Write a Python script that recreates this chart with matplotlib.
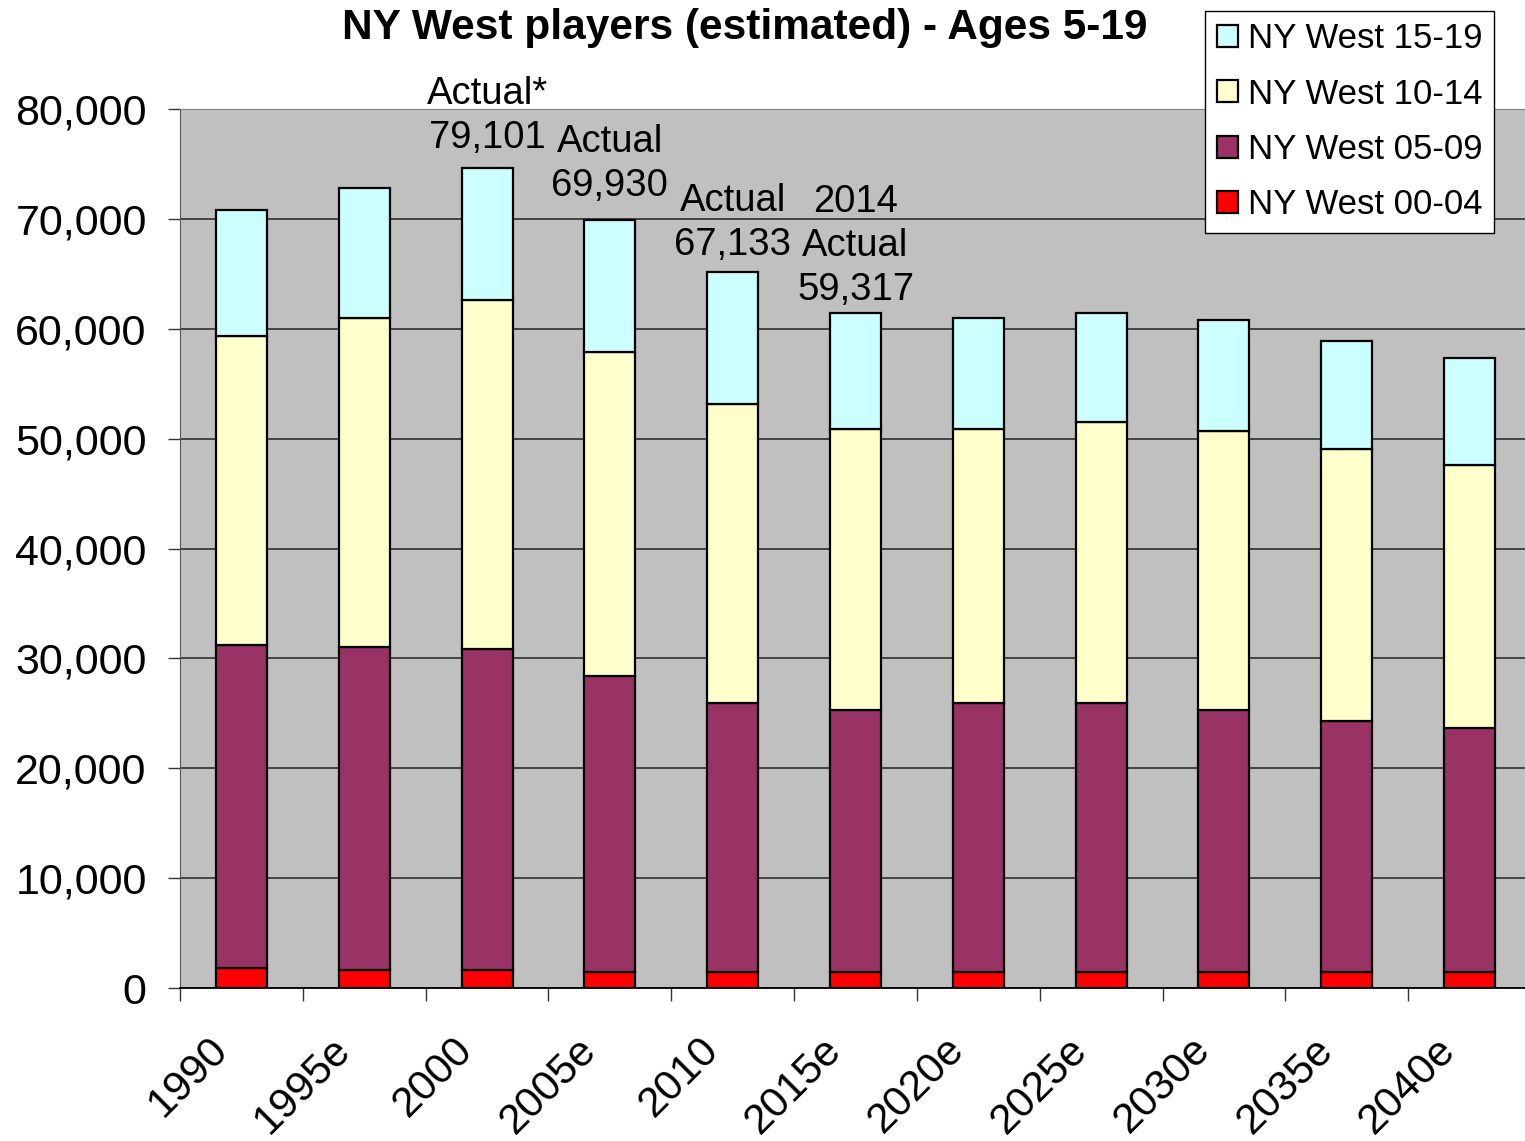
import numpy as np
import matplotlib
matplotlib.use('Agg')
import matplotlib.pyplot as plt
import matplotlib.transforms as mtransforms
from matplotlib.ticker import FuncFormatter

plt.rcParams['font.family'] = ['Liberation Sans', 'DejaVu Sans']

# data
years = ['1990', '1995e', '2000', '2005e', '2010', '2015e', '2020e', '2025e', '2030e', '2035e', '2040e']
age_00_04 = [1800, 1600, 1600, 1450, 1450, 1450, 1450, 1450, 1450, 1450, 1450]
age_05_09 = [29400, 29450, 29250, 26950, 24500, 23850, 24500, 24500, 23850, 22850, 22200]
age_10_14 = [28100, 29900, 31750, 29500, 27200, 25550, 24950, 25550, 25400, 24750, 23950]
age_15_19 = [11550, 11850, 12000, 12000, 12000, 10550, 10100, 9900, 10100, 9850, 9750]

notes = {2: 'Actual*\n79,101', 3: 'Actual\n69,930', 4: 'Actual\n67,133', 5: '2014\nActual\n59,317'}
note_gap = {2: 12, 3: 16, 4: 9, 5: 5}

colors = ['#FF0000', '#993366', '#FFFFCC', '#CCFFFF']
labels = ['NY West 00-04', 'NY West 05-09', 'NY West 10-14', 'NY West 15-19']
series = [age_00_04, age_05_09, age_10_14, age_15_19]

fig = plt.figure(figsize=(15.25, 11.41), dpi=100)
ax = fig.add_axes([180/1525, 1-988/1141, 1351/1525, (988-109)/1141])
ax.set_facecolor('#C0C0C0')

x = np.arange(len(years))
bottom = np.zeros(len(years))
for vals, c, lab in zip(series, colors, labels):
    ax.bar(x, vals, width=0.415, bottom=bottom, color=c, edgecolor='black',
           linewidth=1.6, label=lab, zorder=3)
    bottom += np.array(vals)

for i, txt in notes.items():
    ax.annotate(txt, xy=(x[i], bottom[i]), xytext=(0, note_gap[i]), textcoords='offset pixels',
                ha='center', va='bottom', fontsize=27.5, linespacing=1.3, zorder=5,
                annotation_clip=False)

ax.set_ylim(0, 80000)
ax.set_xlim(-0.5, len(years) - 0.5)
ax.set_yticks(np.arange(0, 80001, 10000))
ax.yaxis.set_major_formatter(FuncFormatter(lambda v, p: '{:,.0f}'.format(v)))
ax.yaxis.grid(True, color='#3a3a3a', linewidth=1.3, zorder=0)
ax.set_axisbelow(True)

# tick marks at category boundaries, labels at centers
ax.set_xticks(np.arange(len(years) + 1) - 0.5)
ax.set_xticklabels([])
ax.set_xticks(x, minor=True)
ax.set_xticklabels(years, minor=True, rotation=45, ha='right', va='center',
                   rotation_mode='anchor', fontsize=30.5)
ax.tick_params(axis='x', which='major', length=9, width=1, direction='out', color='#333333')
ax.tick_params(axis='x', which='minor', length=0, pad=40)
ax.tick_params(axis='y', length=9, width=1, direction='out', color='#333333', labelsize=31, pad=15)
shift = mtransforms.ScaledTranslation(-20/100, 0, fig.dpi_scale_trans)
for lbl in ax.xaxis.get_minorticklabels():
    lbl.set_transform(lbl.get_transform() + shift)

ax.spines['right'].set_visible(False)
ax.spines['top'].set_color('#808080')
ax.spines['left'].set_color('#555555')
ax.spines['bottom'].set_color('black')
ax.spines['bottom'].set_linewidth(1.3)

fig.text(745/1525, 1-28/1141, 'NY West players (estimated) - Ages 5-19', ha='center', va='center',
         fontsize=30.5, fontweight='bold')

h, l = ax.get_legend_handles_labels()
leg = fig.legend(h[::-1], l[::-1], loc='upper right', bbox_to_anchor=(1494/1525, 1-11/1141),
                 fontsize=25, frameon=True, fancybox=False, edgecolor='black', framealpha=1,
                 handlelength=0.6, handleheight=0.6, handletextpad=0.3, labelspacing=0.64,
                 borderpad=0.33, borderaxespad=0)
leg.get_frame().set_linewidth(1)

fig.savefig('out.png', dpi=100)
